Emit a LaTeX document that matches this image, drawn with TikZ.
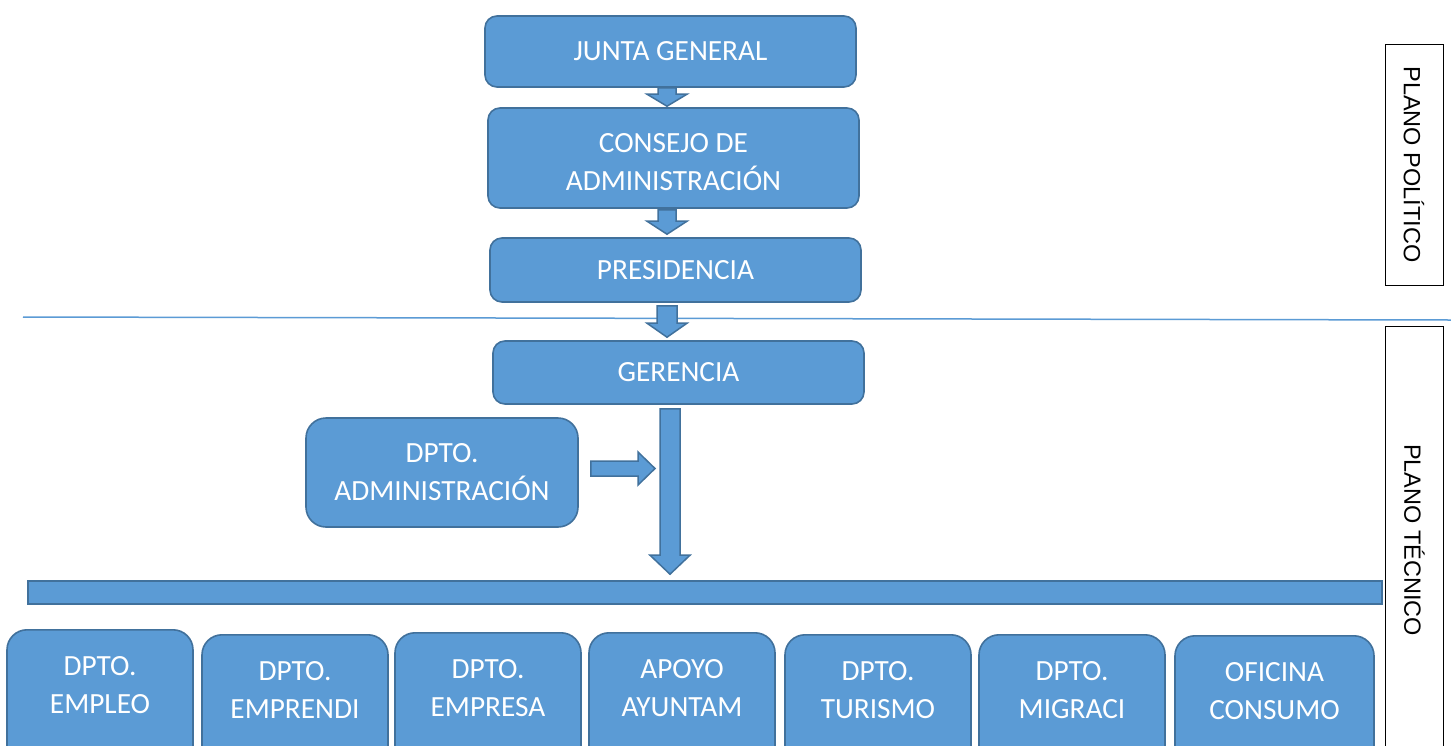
\documentclass[tikz,border=0pt]{standalone}
\usepackage{fontspec}
\usepackage{xcolor}
\usetikzlibrary{calc}
\newfontfamily\boxfont{Carlito}
\newfontfamily\sidefont{Liberation Sans}
\definecolor{boxfill}{HTML}{5B9BD5}
\definecolor{boxline}{HTML}{41719C}

% block arrow down: x, from, to, head length, half shaft
\newcommand{\downblk}[5]{%
  \filldraw[blk] let \p1=#2, \p2=#3 in
    (#1pt-#5,\y1) -- (#1pt+#5,\y1) -- (#1pt+#5,\y2+#4) -- (#1pt+20pt,\y2+#4)
    -- (#1pt,\y2) -- (#1pt-20pt,\y2+#4) -- (#1pt-#5,\y2+#4) -- cycle;}
% block arrow right: from, to
\newcommand{\rightblk}[2]{%
  \filldraw[blk] let \p1=#1, \p2=#2 in
    (\x1,\y2+7.5pt) -- (\x2-17pt,\y2+7.5pt) -- (\x2-17pt,\y2+16.5pt) -- (\x2,\y2)
    -- (\x2-17pt,\y2-16.5pt) -- (\x2-17pt,\y2-7.5pt) -- (\x1,\y2-7.5pt) -- cycle;}

\begin{document}
\begin{tikzpicture}[x=1pt, y=-1pt,
    box/.style = {draw=boxline, fill=boxfill, line width=1.6pt,
                rounded corners=12pt, text=white, align=center, inner sep=0pt,
                font=\boxfont\fontsize{29.3}{38}\selectfont},
    dept/.style = {anchor=north, rounded corners=20pt, minimum height=0pt,
                text height=57pt, text depth=62pt, inner ysep=27pt},
    blk/.style = {draw=boxline, fill=boxfill, line width=1.5pt},
    sidebox/.style = {draw=black, line width=0.8pt, fill=white, rotate=-90,
                inner sep=0pt, minimum height=58,
                font=\sidefont\fontsize{23.5}{28}\selectfont}
                    ]
        \useasboundingbox (0,0) rectangle (1451,745);
        \clip (0,0) rectangle (1451,745);
        \fill[white] (0,0) rectangle (1451,745);
        % plano politico
        \node[box, minimum width=371, minimum height=71] (junta) at (670.5,51.5) {JUNTA GENERAL};
        \node[box, minimum width=371, minimum height=100, text height=65pt, text depth=0pt] (consejo) at (673.5,158) {CONSEJO DE\\ADMINISTRACIÓN};
        \node[box, minimum width=371, minimum height=64] (pres) at (675.5,270) {PRESIDENCIA};
        \draw[boxfill, line width=1.5pt] (23,317) -- (1451,320);
        % plano tecnico
        \node[box, minimum width=371, minimum height=63] (ger) at (678.5,372.5) {GERENCIA};
        \node[box, rounded corners=20pt, minimum width=272, minimum height=109] (adm) at (442,472.5) {DPTO.\\ADMINISTRACIÓN};
        \node[box, rounded corners=0pt, minimum width=1354, minimum height=23] (bar) at (705,592.5) {};
        \foreach \x/\t/\w/\n/\txt in {100/629/186/empleo/{DPTO.\\EMPLEO},
                295/634/186/emprendi/{DPTO.\\EMPRENDI}, 488/632/186/empresa/{DPTO.\\EMPRESA},
                682/632/186/apoyo/{APOYO\\AYUNTAM}, 878/634/186/turismo/{DPTO.\\TURISMO},
                1072/634/186/migraci/{DPTO.\\MIGRACI}, 1274.5/635/199/consumo/{OFICINA\\CONSUMO}}
            \node[box, dept, minimum width=\w] (\n) at (\x,\t) {\txt};
        \node[sidebox, minimum width=241] (pol) at (1414,164.5) {PLANO POLÍTICO};
        \node[sidebox, minimum width=428] (tec) at (1414.5,540) {PLANO TÉCNICO};
        % arrows
        \downblk{667}{(junta.south)}{([yshift=1pt]consejo.north)}{12pt}{9pt}
        \downblk{667}{([yshift=-1pt]consejo.south)}{([yshift=3pt]pres.north)}{13pt}{9pt}
        \downblk{667}{([yshift=-3pt]pres.south)}{([yshift=3pt]ger.north)}{14pt}{10pt}
        \downblk{670}{([yshift=-4pt]ger.south)}{([yshift=6pt]bar.north)}{19pt}{10pt}
        \coordinate (trunk) at (660,468.5);
        \rightblk{([xshift=12pt]adm.east)}{([xshift=-5pt]trunk)}
    \end{tikzpicture}
\end{document}
